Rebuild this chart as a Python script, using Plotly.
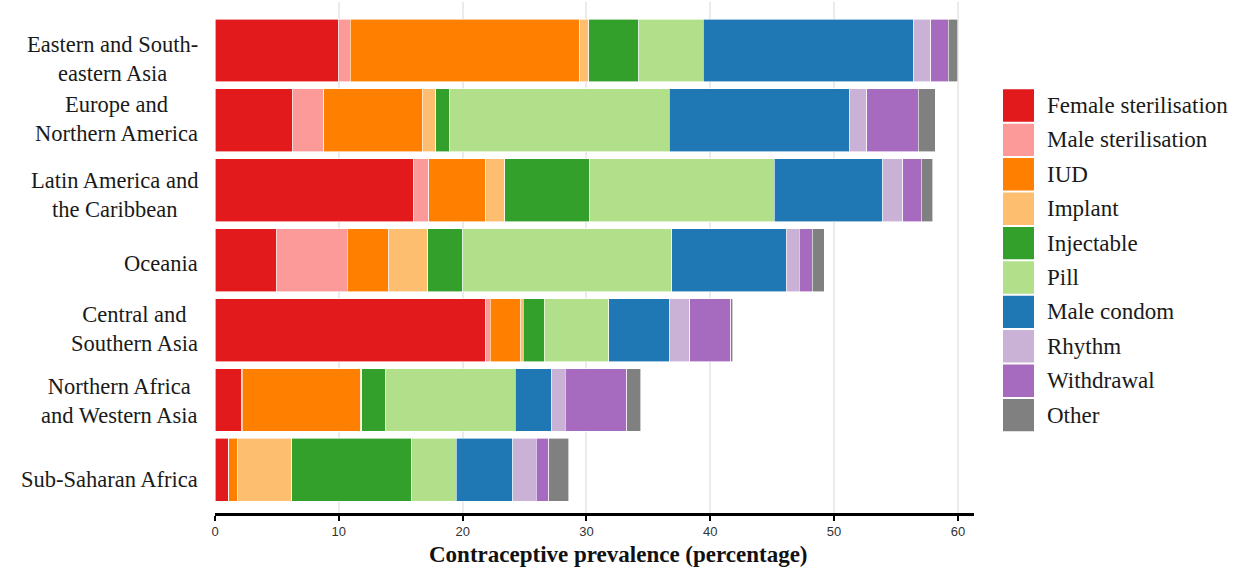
import plotly.graph_objects as go

regions = [
    "Eastern and South-<br>eastern Asia",
    "Europe and<br>Northern America",
    "Latin America and<br>the Caribbean",
    "Oceania",
    "Central and<br>Southern Asia",
    "Northern Africa<br>and Western Asia",
    "Sub-Saharan Africa",
]

methods = ["Female sterilisation", "Male sterilisation", "IUD", "Implant", "Injectable",
           "Pill", "Male condom", "Rhythm", "Withdrawal", "Other"]

colors = ["#e31a1c", "#fb9a99", "#ff7f00", "#fdbf6f", "#33a02c",
          "#b2df8a", "#1f78b4", "#cab2d6", "#a66bbe", "#808080"]

female_sterilisation = [10.0, 6.29, 16.02, 4.95, 21.81, 2.17, 1.09]
male_sterilisation   = [0.93, 2.51, 1.26, 5.74, 0.44, 0.05, 0.03]
iud                  = [18.54, 7.92, 4.59, 3.34, 2.39, 9.54, 0.67]
implant              = [0.72, 1.11, 1.54, 3.15, 0.24, 0.08, 4.42]
injectable           = [4.05, 1.10, 6.83, 2.83, 1.70, 1.97, 9.62]
pill                 = [5.19, 17.76, 14.93, 16.87, 5.23, 10.43, 3.64]
male_condom          = [17.01, 14.52, 8.77, 9.26, 4.88, 2.91, 4.58]
rhythm               = [1.35, 1.43, 1.61, 1.03, 1.67, 1.15, 1.88]
withdrawal           = [1.43, 4.15, 1.48, 1.05, 3.29, 4.94, 1.01]
other                = [0.75, 1.38, 0.95, 1.00, 0.16, 1.15, 1.61]

series = [female_sterilisation, male_sterilisation, iud, implant, injectable,
          pill, male_condom, rhythm, withdrawal, other]

x_ticks = [0, 10, 20, 30, 40, 50, 60]

# layout styling (pixel offsets of region labels relative to bar centres)
label_yshift = [-8, 1, -5, -3, 1, -1, -10]

W, H = 1233, 570
L, R, T, B = 215, 259, 2, 57
PW, PH = W - L - R, H - T - B

def px_x(px):
    return (px - L) / PW

def px_y(py):
    return (H - B - py) / PH

fig = go.Figure()
for name, vals, col in zip(methods, series, colors):
    fig.add_trace(go.Bar(
        y=list(range(len(regions))), x=vals, name=name, orientation="h",
        marker=dict(color=col, line=dict(color="white", width=0.6)),
        showlegend=False,
    ))

serif = "Liberation Serif, Times New Roman, serif"

annotations = []
for i, reg in enumerate(regions):
    annotations.append(dict(
        x=px_x(200), xref="paper", y=i, yref="y", text=reg, showarrow=False,
        xanchor="right", yanchor="middle", align="center", yshift=label_yshift[i],
        font=dict(family=serif, size=22.5, color="#1a1a1a"),
    ))

annotations.append(dict(
    x=px_x(618), xref="paper", y=px_y(555), yref="paper",
    text="<b>Contraceptive prevalence (percentage)</b>", showarrow=False,
    xanchor="center", yanchor="middle",
    font=dict(family=serif, size=23, color="#111111"),
))

shapes = []
top0, pitch, sw_h = 89.3, 34.4, 32.4
for k, (name, col) in enumerate(zip(methods, colors)):
    y0 = top0 + k * pitch
    shapes.append(dict(
        type="rect", xref="paper", yref="paper",
        x0=px_x(1003), x1=px_x(1034), y0=px_y(y0 + sw_h), y1=px_y(y0),
        fillcolor=col, line=dict(width=0),
    ))
    annotations.append(dict(
        x=px_x(1045), xref="paper", y=px_y(y0 + sw_h / 2), yref="paper",
        text=name, showarrow=False, xanchor="left", yanchor="middle",
        font=dict(family=serif, size=23, color="#1a1a1a"),
    ))

fig.update_layout(
    barmode="stack", bargap=0.1,
    width=W, height=H,
    margin=dict(l=L, r=R, t=T, b=B, pad=0),
    plot_bgcolor="white", paper_bgcolor="white",
    annotations=annotations, shapes=shapes,
    xaxis=dict(
        range=[0, 61.3], tickvals=x_ticks, showgrid=True, gridcolor="#ebebeb", gridwidth=2,
        zeroline=False, showline=True, linecolor="black", linewidth=2.5,
        ticks="outside", ticklen=5, tickwidth=2, tickcolor="black",
        tickfont=dict(family="Liberation Sans, Arial, sans-serif", size=13, color="#333333"),
    ),
    yaxis=dict(
        range=[6.617, -0.694], showticklabels=False, showgrid=False, zeroline=False,
        showline=False, ticks="",
    ),
)

fig.write_html(
    "out.html",
    config={"displayModeBar": False},
    post_script="document.body.style.margin='0';document.body.style.padding='0';"
                "document.body.style.overflow='hidden';",
)
